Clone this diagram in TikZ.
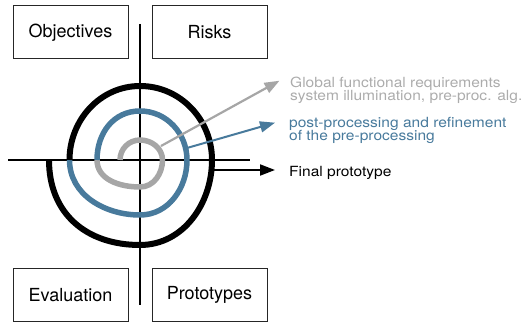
\documentclass[tikz,border=0pt]{standalone}
\usepackage{fontspec}
\setmainfont{TeX Gyre Heros}
\newfontfamily\notefamily[FakeStretch=1.11]{TeX Gyre Heros}
\usepackage{tikz}
\usetikzlibrary{arrows.meta}

\definecolor{spiralgray}{RGB}{166,166,166}
\definecolor{notegray}{RGB}{172,172,172}
\definecolor{spiralblue}{RGB}{72,122,156}

% tight two-line labels
\newcommand\notefont{\notefamily\fontsize{14}{13}\selectfont\lineskiplimit=-50pt\relax}

\tikzset{
  >={Triangle[length=15pt,width=11pt]},
  quadrant/.style={draw=black!85, line width=1pt, minimum width=115pt,
    minimum height=53pt, font=\fontsize{18}{20}\selectfont},
  axis/.style={line width=1.3pt},
  ring/.style={line width=5.5pt},
  note/.style={align=left, inner sep=0pt, anchor=base west, font=\notefont},
}

\begin{document}
\begin{tikzpicture}[x=1pt,y=1pt]
  \useasboundingbox (0,0) rectangle (525,324);

  % the four quadrants
  \node[quadrant] (obj)   at (70.5,291.5) {Objectives};
  \node[quadrant] (risk)  at (209.5,291.5) {Risks};
  \node[quadrant] (eval)  at (70.5,29) {Evaluation};
  \node[quadrant] (proto) at (209.5,29) {Prototypes};

  % axes
  \coordinate (c) at (140,164);
  \coordinate (up) at (140,300);
  \coordinate (down) at (140,19);
  \coordinate (left) at (8,164);
  \coordinate (right) at (250,164);
  \draw[axis] (up) -- (down);
  \draw[axis] (left) -- (right);

  % spiral: left -> top -> right -> bottom -> left, one turn per iteration
  \begin{scope}[shift={(c)}]
    \draw[ring, spiralgray] (-20,0) to[out=90,in=180] (0,20)
      to[out=0,in=90] (22.5,0) to[out=-90,in=0] (0,-27)
      to[out=180,in=-90] (-43,0);
    \draw[ring, spiralblue] (-43,0) to[out=90,in=180,looseness=1.05] (0,49)
      to[out=0,in=90] (47,0) to[out=-90,in=0] (0,-55)
      to[out=180,in=-90] (-70.5,0);
    \draw[ring, line width=6pt] (-70.5,0) to[out=90,in=180] (0,74)
      to[out=0,in=90] (72,0) to[out=-90,in=0] (0,-85)
      to[out=180,in=-90,looseness=1.1] (-91,0);
    \coordinate (g0) at (21,14);
    \coordinate (b0) at (47,12);
    \coordinate (k0) at (74,-10);
  \end{scope}

  % iteration outputs
  \node[note, text=notegray] (req) at (290,223.7)
    {Global functional requirements\\system illumination, pre-proc. alg.};
  \node[note, text=spiralblue] (post) at (289,183.7)
    {post-processing and refinement\\of the pre-processing};
  \node[note] (final) at (289,147.3) {Final prototype};

  \coordinate (g1) at (279.5,243.3);
  \coordinate (b1) at (275,201.3);
  \coordinate (k1) at (275,154);
  \draw[->, spiralgray, line width=2.2pt] (g0) -- (g1);
  \draw[->, spiralblue, line width=2pt] (b0) -- (b1);
  \draw[->, line width=2pt] (k0) -- (k1);
\end{tikzpicture}
\end{document}
